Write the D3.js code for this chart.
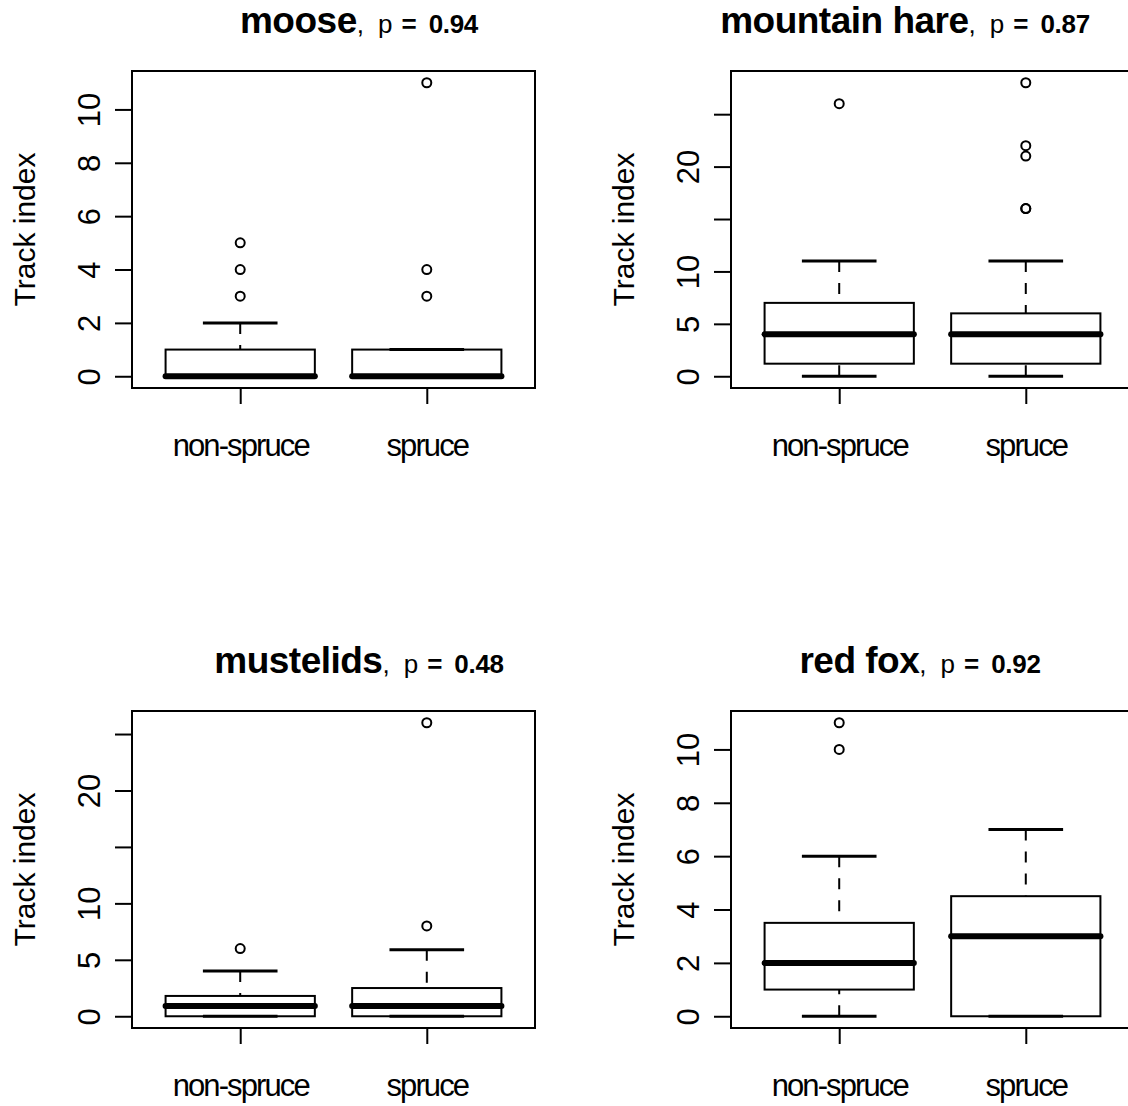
<!DOCTYPE html>
<html>
<head>
<meta charset="utf-8">
<script src="https://cdn.jsdelivr.net/npm/d3@7"></script>
<style>
  body { margin: 0; background: #fff; }
  svg { display: block; font-family: "Liberation Sans", Arial, Helvetica, sans-serif; }
</style>
</head>
<body>
<div id="chart"></div>
<script>
// data
const species = ["moose", "mountain hare", "mustelids", "red fox"];
const pValues = ["0.94", "0.87", "0.48", "0.92"];
const groups = ["non-spruce", "spruce"];
// [lower whisker, lower hinge, median, upper hinge, upper whisker]
const nonSpruceStats = [[0, 0, 0, 1, 2], [0, 1.2, 4, 7, 11], [0, 0, 0.9, 1.8, 4], [0, 1, 2, 3.5, 6]];
const spruceStats = [[0, 0, 0, 1, 1], [0, 1.2, 4, 6, 11], [0, 0, 0.9, 2.5, 5.9], [0, 0, 3, 4.5, 7]];
const nonSpruceOut = [[3, 4, 5], [26], [6], [10, 11]];
const spruceOut = [[3, 4, 11], [16, 16, 21, 22, 28], [8, 26], []];
const yTicks = [[0, 2, 4, 6, 8, 10], [0, 5, 10, 15, 20, 25], [0, 5, 10, 15, 20, 25], [0, 2, 4, 6, 8, 10]];
const yTickLabels = [["0", "2", "4", "6", "8", "10"], ["0", "5", "10", "", "20", ""],
                     ["0", "5", "10", "", "20", ""], ["0", "2", "4", "6", "8", "10"]];

// layout
const W = 1128, H = 1106;
const plotW = 403, plotH = 317;
const lefts = [132, 731, 132, 731];
const tops = [71, 71, 711, 711];
const titleX = [359, 905, 359, 920];

const svg = d3.select('#chart').append('svg')
  .attr('width', W).attr('height', H);

species.forEach((name, i) => {
  const g = svg.append('g').attr('transform', `translate(${lefts[i]},${tops[i]})`);

  const x = d3.scaleLinear().domain([0.42, 2.58]).range([0, plotW]);
  const allVals = nonSpruceStats[i].concat(spruceStats[i], nonSpruceOut[i], spruceOut[i]);
  const [lo, hi] = d3.extent(allVals);
  const pad = (hi - lo) * 0.04;
  const y = d3.scaleLinear().domain([lo - pad, hi + pad]).range([plotH, 0]);

  const boxes = [
    { pos: 1, s: nonSpruceStats[i], out: nonSpruceOut[i] },
    { pos: 2, s: spruceStats[i], out: spruceOut[i] }
  ];

  const bx = g.selectAll('g.box').data(boxes).join('g').attr('class', 'box');

  // whiskers (dashed), drawn from whisker end toward the hinge
  bx.selectAll('line.wh').data(d => [[d.pos, d.s[0], d.s[1]], [d.pos, d.s[4], d.s[3]]])
    .join('line').attr('class', 'wh')
    .attr('x1', d => x(d[0])).attr('x2', d => x(d[0]))
    .attr('y1', d => y(d[1])).attr('y2', d => y(d[2]))
    .attr('stroke', '#000').attr('stroke-width', 2)
    .attr('stroke-dasharray', '11,11');

  // staples
  bx.selectAll('line.st').data(d => [[d.pos, d.s[0]], [d.pos, d.s[4]]])
    .join('line').attr('class', 'st')
    .attr('x1', d => x(d[0] - 0.2)).attr('x2', d => x(d[0] + 0.2))
    .attr('y1', d => y(d[1])).attr('y2', d => y(d[1]))
    .attr('stroke', '#000').attr('stroke-width', 3);

  // box
  bx.append('rect')
    .attr('x', d => x(d.pos - 0.4))
    .attr('width', d => x(d.pos + 0.4) - x(d.pos - 0.4))
    .attr('y', d => y(d.s[3]))
    .attr('height', d => y(d.s[1]) - y(d.s[3]))
    .attr('fill', 'none').attr('stroke', '#000').attr('stroke-width', 2);

  // median
  bx.append('line')
    .attr('x1', d => x(d.pos - 0.4)).attr('x2', d => x(d.pos + 0.4))
    .attr('y1', d => y(d.s[2])).attr('y2', d => y(d.s[2]))
    .attr('stroke', '#000').attr('stroke-width', 6).attr('stroke-linecap', 'round');

  // outliers
  bx.selectAll('circle').data(d => d.out.map(v => [d.pos, v]))
    .join('circle')
    .attr('cx', d => x(d[0])).attr('cy', d => y(d[1]))
    .attr('r', 4.5).attr('fill', 'none').attr('stroke', '#000').attr('stroke-width', 2);

  // frame
  g.append('rect').attr('width', plotW).attr('height', plotH)
    .attr('fill', 'none').attr('stroke', '#000').attr('stroke-width', 2);

  // y axis
  const ya = g.append('g').call(
    d3.axisLeft(y).tickValues(yTicks[i]).tickSize(17)
      .tickFormat((d, k) => yTickLabels[i][k]));
  ya.select('.domain').remove();
  ya.selectAll('line').attr('stroke-width', 2);
  ya.selectAll('text')
    .attr('x', null).attr('dy', null)
    .attr('transform', 'translate(-32,0) rotate(-90)')
    .attr('text-anchor', 'middle')
    .attr('font-size', 31).attr('font-family', null).attr('fill', '#000');

  // x axis
  const xa = g.append('g').attr('transform', `translate(0,${plotH})`).call(
    d3.axisBottom(x).tickValues([1, 2]).tickSize(16).tickFormat((d, k) => groups[k]));
  xa.select('.domain').remove();
  xa.selectAll('line').attr('stroke-width', 2);
  xa.selectAll('text')
    .attr('y', 68).attr('dy', null)
    .attr('font-size', 31).attr('letter-spacing', -1.9)
    .attr('font-family', null).attr('fill', '#000');

  // y label
  g.append('text')
    .attr('transform', `translate(-97,${plotH / 2}) rotate(-90)`)
    .attr('text-anchor', 'middle')
    .attr('font-size', 30)
    .text('Track index');

  // title
  const t = svg.append('text')
    .attr('x', titleX[i]).attr('y', tops[i] - 38)
    .attr('text-anchor', 'middle');
  t.append('tspan').attr('font-weight', 'bold').attr('font-size', 37)
    .attr('letter-spacing', -0.5).text(name);
  t.append('tspan').attr('font-size', 26).text(',');
  t.append('tspan').attr('font-size', 26).attr('dx', 14).text('p');
  t.append('tspan').attr('font-size', 26).attr('font-weight', 'bold')
    .attr('dx', 9).text('=');
  t.append('tspan').attr('font-size', 26).attr('font-weight', 'bold')
    .attr('dx', 12).attr('letter-spacing', -0.3).text(pValues[i]);
});
</script>
</body>
</html>
